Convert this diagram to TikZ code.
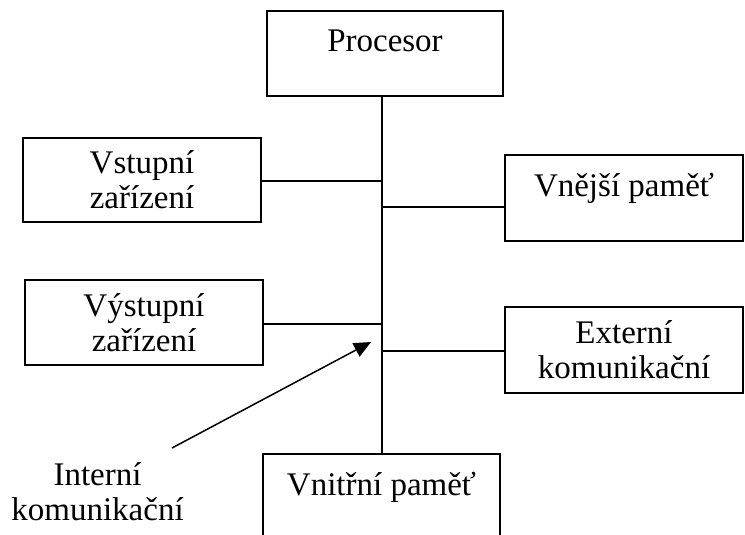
\documentclass[tikz,border=0pt]{standalone}
\usepackage{fontspec}
\setmainfont{Liberation Serif}
\usetikzlibrary{arrows.meta}

\tikzset{
  blok/.style={draw,shape=rectangle,inner sep=0pt,minimum width=238pt,minimum height=85pt,align=center},
  hornibox/.style={blok,text height=22pt,text depth=25pt}
}

\begin{document}
\begin{tikzpicture}[x=1pt,y=-1pt,line width=1.5pt,font=\fontsize{33}{35}\selectfont]

      \clip (0,0) rectangle (745,535);

      \path (385,53.5) node[hornibox,minimum width=236pt] (proc) {Procesor};
      \path (142,180) node[blok,minimum height=84pt] (vst) {Vstupní\\zařízení};
      \path (624,198) node[hornibox,minimum height=86pt] (vne) {Vnější paměť};
      \path (144,322.5) node[blok] (vys) {Výstupní\\zařízení};
      \path (624,350) node[blok,minimum height=86pt] (ext) {Externí\\komunikační};
      \path (381.5,496.5) node[hornibox,minimum width=237pt] (vni) {Vnitřní paměť};
      \path (97.5,492) node[align=center,inner sep=0pt] (int) {Interní\\komunikační};

      \coordinate (j1) at (382,181);
      \coordinate (j2) at (382,207);
      \coordinate (j3) at (382,324);
      \coordinate (j4) at (382,351);
      \coordinate (ocas) at (172,448);
      \coordinate (hrot) at (371,342);

      \draw (proc.south -| j1) -- (vni.north -| j1);
      \draw (vst.east |- j1) -- (j1);
      \draw (j2) -- (vne.west |- j2);
      \draw (vys.east |- j3) -- (j3);
      \draw (j4) -- (ext.west |- j4);
      \draw[-{Triangle[length=17pt,width=15pt]}] (ocas) -- (hrot);
   \end{tikzpicture}
\end{document}
